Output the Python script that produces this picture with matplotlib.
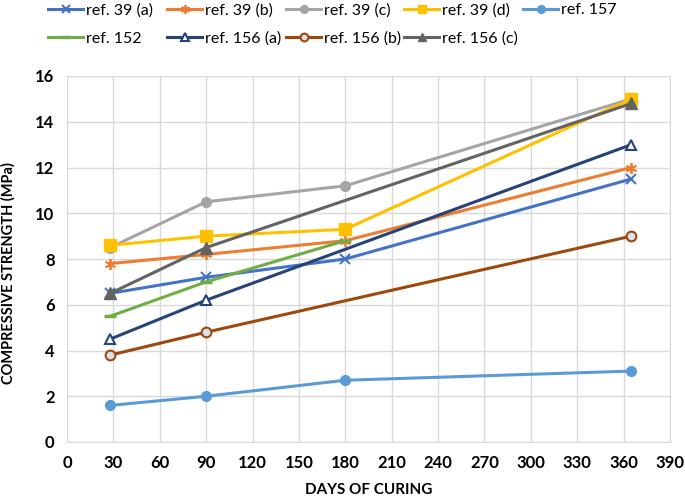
import numpy as np
import matplotlib.pyplot as plt

plt.rcParams['font.family'] = ['Lato', 'DejaVu Sans']

days4 = [28, 90, 180, 365]
days3 = [28, 90, 180]
days_156 = [28, 90, 365]

ref39a = [6.5, 7.2, 8.0, 11.5]
ref39b = [7.8, 8.2, 8.8, 12.0]
ref39c = [8.5, 10.5, 11.2, 15.0]
ref39d = [8.6, 9.0, 9.3, 15.0]
ref157 = [1.6, 2.0, 2.7, 3.1]
ref152 = [5.5, 7.0, 8.8]
ref156a = [4.5, 6.2, 13.0]
ref156b = [3.8, 4.8, 9.0]
ref156c = [6.5, 8.5, 14.8]

W, H = 685, 501
fig = plt.figure(figsize=(W / 100, H / 100), dpi=100)
ax = fig.add_axes([67/W, 59/H, 603/W, 366/H])

lw = 2.2
h = []
h.append(ax.plot(days4, ref39a, color='#4472C4', lw=lw, marker='x', ms=7, mew=1.5, label='ref. 39 (a)')[0])
h.append(ax.plot(days4, ref39b, color='#ED7D31', lw=lw, marker=(6, 2, 0), ms=8, mew=1.3, label='ref. 39 (b)')[0])
h.append(ax.plot(days4, ref39c, color='#A5A5A5', lw=lw, marker='o', ms=7, label='ref. 39 (c)')[0])
h.append(ax.plot(days4, ref39d, color='#FFC000', lw=lw, marker='s', ms=8, label='ref. 39 (d)')[0])
h.append(ax.plot(days4, ref157, color='#5B9BD5', lw=lw, marker='o', ms=7, label='ref. 157')[0])
h.append(ax.plot(days3, ref152, color='#70AD47', lw=lw, marker='_', ms=8, mew=2.5, label='ref. 152')[0])
h.append(ax.plot(days_156, ref156a, color='#264478', lw=lw, marker='^', ms=7, mfc='white', mew=1.5, label='ref. 156 (a)')[0])
h.append(ax.plot(days_156, ref156b, color='#9E480E', lw=lw, marker='o', ms=7, mfc='#D6E2F2', mew=1.5, label='ref. 156 (b)')[0])
h.append(ax.plot(days_156, ref156c, color='#636363', lw=lw, marker='^', ms=8, label='ref. 156 (c)')[0])

ax.set_xlim(0, 390)
ax.set_ylim(0, 16)
ax.set_xticks(np.arange(0, 391, 30))
ax.set_yticks(np.arange(0, 17, 2))
ax.grid(True, color='#D9D9D9', lw=1)
ax.set_axisbelow(True)
for s in ['top', 'left']:
    ax.spines[s].set_visible(False)
ax.spines['right'].set_color('#D9D9D9')
ax.spines['bottom'].set_color('#D9D9D9')
ax.tick_params(length=0, labelsize=12, pad=9)
for t in ax.get_xticklabels() + ax.get_yticklabels():
    t.set_fontweight('bold')

ax.set_xlabel('DAYS OF CURING', fontsize=11, fontweight='bold', labelpad=9)
ax.set_ylabel('COMPRESSIVE STRENGTH (MPa)', fontsize=10.5, fontweight='bold')
ax.yaxis.set_label_coords(-0.085, 0.462)

# legend: 5 equally spaced columns, two rows (Excel style)
col_x = [48, 167, 286, 404, 523]
cols = [[0, 5], [1, 6], [2, 7], [3, 8], [4]]
for x, idx in zip(col_x, cols):
    fig.legend([h[i] for i in idx], [h[i].get_label() for i in idx],
               loc='upper left', bbox_to_anchor=(x / W, 1 - 3 / H),
               frameon=False, fontsize=11.5, handlelength=2.2,
               handletextpad=0.2, labelspacing=0.9, borderpad=0,
               borderaxespad=0, markerscale=0.8)

fig.savefig('out.png', dpi=100)
